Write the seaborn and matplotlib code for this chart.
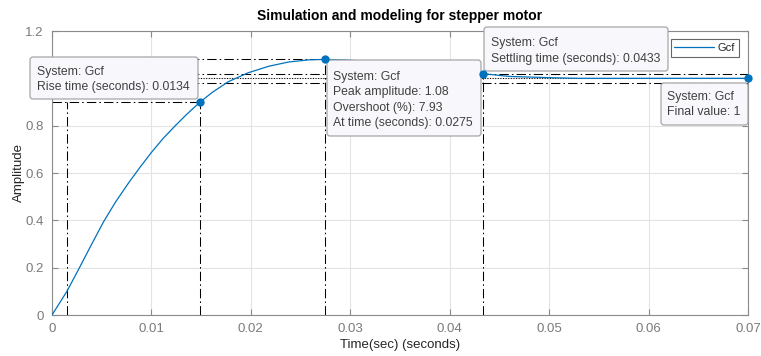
import matplotlib
matplotlib.use("Agg")
import numpy as np
import pandas as pd
import seaborn as sns
import matplotlib.pyplot as plt
from matplotlib.patches import FancyBboxPatch
from matplotlib.transforms import Affine2D

# ---- data ----
time_s = [0, 0.0015, 0.0027, 0.0040, 0.0052, 0.0064, 0.0077, 0.0089, 0.0100,
          0.0112, 0.0124, 0.0136, 0.0149, 0.0161, 0.0177, 0.0197, 0.0218,
          0.0238, 0.0258, 0.0275, 0.0295, 0.0330, 0.0370, 0.0405, 0.0433,
          0.0460, 0.0507, 0.0531, 0.0600, 0.0700]
amplitude = [0, 0.10, 0.195, 0.30, 0.395, 0.478, 0.558, 0.627, 0.687,
             0.747, 0.800, 0.850, 0.900, 0.940, 0.985, 1.023, 1.051,
             1.069, 1.078, 1.080, 1.078, 1.068, 1.052, 1.035, 1.020,
             1.008, 1.002, 1.000, 1.000, 1.000]

rise_start_time = 0.0015
rise_end_time = 0.0149
rise_level = 0.9
peak_time = 0.0275
peak_amp = 1.08
settle_time = 0.0433
settle_band = [1.02, 0.98]
final_value = 1.0
t_end = 0.07

char_time = [rise_end_time, peak_time, settle_time, t_end]
char_amp = [rise_level, peak_amp, 1.02, final_value]

x_ticks = [0, 0.01, 0.02, 0.03, 0.04, 0.05, 0.06, 0.07]
x_labels = ["0", "0.01", "0.02", "0.03", "0.04", "0.05", "0.06", "0.07"]
y_ticks = [0, 0.2, 0.4, 0.6, 0.8, 1.0, 1.2]
y_labels = ["0", "0.2", "0.4", "0.6", "0.8", "1", "1.2"]

tip_rise = ["System: Gcf", "Rise time (seconds): 0.0134"]
tip_peak = ["System: Gcf", "Peak amplitude: 1.08", "Overshoot (%): 7.93", "At time (seconds): 0.0275"]
tip_settle = ["System: Gcf", "Settling time (seconds): 0.0433"]
tip_final = ["System: Gcf", "Final value: 1"]

# ---- style ----
sns.set_theme(style="whitegrid")
plt.rcParams["font.family"] = ["Liberation Sans", "DejaVu Sans"]

W, H = 761, 356
fig = plt.figure(figsize=(W / 100, H / 100), dpi=100)
fig.patch.set_facecolor("white")
ax = fig.add_axes([52 / W, 1 - 315 / H, 696 / W, 284 / H])
ax.set_facecolor("white")

BLUE = "#0072BD"
df = pd.DataFrame({"Time": time_s, "Amplitude": amplitude, "System": "Gcf"})
sns.lineplot(data=df, x="Time", y="Amplitude", hue="System", palette=[BLUE],
             lw=0.9, ax=ax, zorder=3)

dd = (0, (9, 3, 1.5, 3))
lk = dict(color="black", lw=0.75, zorder=2)
# rise time
ax.plot([0, rise_end_time], [rise_level, rise_level], ls=dd, **lk)
ax.plot([rise_start_time, rise_start_time], [0, rise_level], ls=dd, **lk)
ax.plot([rise_end_time, rise_end_time], [0, rise_level], ls=dd, **lk)
# peak
ax.plot([0, peak_time], [peak_amp, peak_amp], ls=dd, **lk)
ax.plot([peak_time, peak_time], [0, peak_amp], ls=dd, **lk)
# settling
for lvl in settle_band:
    ax.plot([0, t_end], [lvl, lvl], ls=dd, **lk)
ax.plot([settle_time, settle_time], [0, settle_band[0]], ls=dd, **lk)
ax.plot([0, t_end], [final_value, final_value], ls=(0, (1, 1.5)),
        color="black", lw=0.75, zorder=2)

sns.scatterplot(x=char_time, y=char_amp, color=BLUE, s=36, edgecolor=BLUE,
                linewidth=0, ax=ax, zorder=6, clip_on=False, legend=False)

ax.set_xlim(0, 0.07)
ax.set_ylim(0, 1.2)
ax.set_xticks(x_ticks)
ax.set_xticklabels(x_labels)
ax.set_yticks(y_ticks)
ax.set_yticklabels(y_labels)
ax.grid(True, color="#e3e3e3", lw=0.8)
for s in ax.spines.values():
    s.set_visible(True)
    s.set_color("#8a8a8a")
    s.set_linewidth(0.8)
ax.tick_params(direction="in", length=4, width=0.8, color="#8a8a8a",
               labelcolor="#7a7a7a", labelsize=9.5, top=True, right=True,
               bottom=True, left=True, pad=6)

ax.set_title("Simulation and modeling for stepper motor", fontsize=10,
             fontweight="bold", color="black", pad=8)
ax.set_xlabel("Time(sec) (seconds)", fontsize=9.5, color="#262626")
ax.set_ylabel("Amplitude", fontsize=9.5, color="#262626")
ax.xaxis.set_label_coords(0.5, -(339 - 315) / 284)
ax.yaxis.set_label_coords((25 - 52) / 696, 0.5)

# legend
leg = ax.legend(handles=ax.get_lines()[:1], labels=["Gcf"], loc="upper right",
                bbox_to_anchor=(739 / W, 1 - 39 / H), bbox_transform=fig.transFigure,
                fancybox=False, frameon=True, fontsize=8, handlelength=3.6,
                handletextpad=0.3, borderpad=0.35, borderaxespad=0)
leg.get_frame().set_edgecolor("#404040")
leg.get_frame().set_linewidth(0.8)
leg.set_zorder(8)

# data tips (pixel coordinates, top-left origin)
pix = Affine2D().scale(1, -1).translate(0, H)


def tip(x0, y0, x1, y1, lines, tx, ty_mid):
    box = FancyBboxPatch((x0, y0), x1 - x0, y1 - y0,
                         boxstyle="round,pad=0,rounding_size=3",
                         transform=pix, facecolor="#f8f8fc", edgecolor="#a6a6a6",
                         lw=0.9, zorder=5, clip_on=False)
    ax.add_artist(box)
    ax.text(tx, ty_mid, "\n".join(lines), transform=pix, fontsize=8.8,
            color="#404040", ha="left", va="center", linespacing=1.38,
            zorder=7, clip_on=False)


tip(30, 57, 198, 99, tip_rise, 37, 79.5)
tip(327, 60, 481, 136, tip_peak, 333, 100)
tip(484, 27, 668, 71, tip_settle, 491, 51)
tip(661, 83, 748, 125, tip_final, 667, 104.5)

fig.savefig("out.png", dpi=100)
